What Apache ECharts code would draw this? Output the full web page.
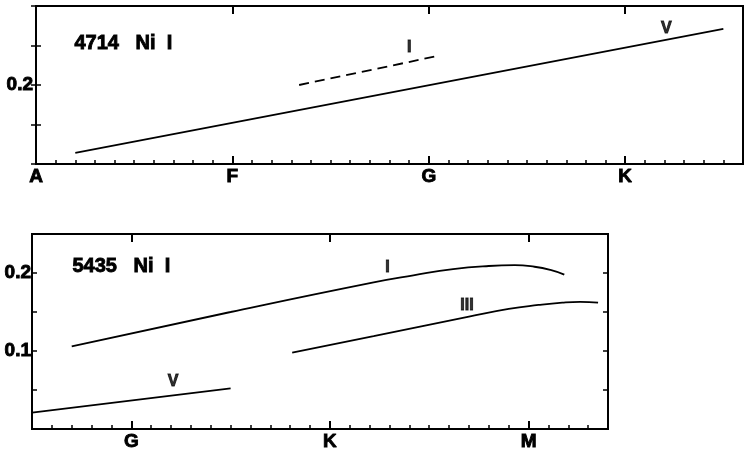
<!DOCTYPE html>
<html>
<head>
<meta charset="utf-8">
<script src="https://cdn.jsdelivr.net/npm/echarts@6/dist/echarts.min.js"></script>
<style>html,body{margin:0;padding:0;background:#fff}#c{width:750px;height:455px}</style>
</head>
<body>
<div id="c"></div>
<script>
// Spectral class scale: A=0, F=10, G=20, K=30, M=40 (one minor tick per subclass)
var classNames = ['A', 'F', 'G', 'K', 'M'];
var classPos = [0, 10, 20, 30, 40];

// Top panel: 4714 Ni I
var topTitle = '4714   Ni  I';
var topYLabels = [0.2];
var topV = [[2.0, 0.114], [35.0, 0.271]];
var topI = [[13.4, 0.200], [20.5, 0.237]];
var topLabels = [['I', 19.0, 0.247], ['V', 32.1, 0.271]];

// Bottom panel: 5435 Ni I
var botTitle = '5435   Ni  I';
var botYLabels = [0.1, 0.2];
var botI = [[17.0, 0.106], [25.0, 0.150], [32.2, 0.188], [34.2, 0.197], [36.2, 0.205], [38.0, 0.209], [39.3, 0.210], [40.3, 0.208], [41.1, 0.204], [41.8, 0.198]];
var botIII = [[28.1, 0.098], [32.2, 0.119], [37.0, 0.144], [39.0, 0.154], [40.5, 0.159], [41.7, 0.162], [42.6, 0.163], [43.5, 0.162]];
var botV = [[15.0, 0.021], [25.0, 0.052]];
var botLabels = [['I', 32.9, 0.207], ['III', 36.9, 0.158], ['V', 22.1, 0.061]];

var chart = echarts.init(document.getElementById('c'));
var font = "'Liberation Sans', Arial, sans-serif";
var heavy = { textBorderColor: '#000', textBorderWidth: 0.9 };
function fmtClass(v) { var i = classPos.indexOf(v); return i >= 0 ? classNames[i] : ''; }
function fmtY(list) { return function (v) { for (var i = 0; i < list.length; i++) if (Math.abs(v - list[i]) < 1e-9) return list[i].toFixed(1); return ''; }; }
function txt(extra) { return Object.assign({ color: '#000', fontFamily: font, fontWeight: 'bold', fontSize: 19 }, heavy, extra); }
function minorX(grid, min, max) {
  return { type: 'value', gridIndex: grid, min: min, max: max, interval: 1, position: 'bottom',
    axisLine: { show: false }, splitLine: { show: false }, axisLabel: { show: false },
    axisTick: { show: true, inside: true, length: 4, lineStyle: { color: '#000', width: 1.5 } } };
}
function majorX(grid, min, max, vals, pos, labels) {
  return { type: 'value', gridIndex: grid, min: min, max: max, position: pos,
    axisLine: { show: false }, splitLine: { show: false },
    axisLabel: txt({ show: labels, customValues: vals, formatter: fmtClass, margin: 3 }),
    axisTick: { show: true, inside: true, length: 8, customValues: vals, lineStyle: { color: '#000', width: 2 } } };
}
function yAx(grid, min, max, pos, labels, margin) {
  return { type: 'value', gridIndex: grid, min: min, max: max, interval: 0.05, position: pos,
    axisLine: { show: false }, splitLine: { show: false },
    axisLabel: txt({ show: !!labels, formatter: labels ? fmtY(labels) : '', margin: margin }),
    axisTick: { show: true, inside: true, length: 5, lineStyle: { color: '#000', width: 1.5 } } };
}
function line(data, xi, yi, dashed) {
  return { type: 'line', xAxisIndex: xi, yAxisIndex: yi, data: data, symbol: 'none', smooth: data.length > 2 ? 0.5 : false,
    lineStyle: { color: '#000', width: 1.8, type: dashed ? [10, 6] : 'solid' }, silent: true, animation: false };
}
function labels(arr, xi, yi) {
  return { type: 'scatter', xAxisIndex: xi, yAxisIndex: yi, symbolSize: 1, itemStyle: { color: 'rgba(0,0,0,0)' }, silent: true, animation: false,
    data: arr.map(function (d) { return { name: d[0], value: [d[1], d[2]] }; }),
    label: txt({ show: true, position: 'inside', formatter: '{b}', fontSize: 16 }) };
}
var onTop = [classPos[1], classPos[2], classPos[3]];
var onBot = [classPos[2], classPos[3], classPos[4]];
chart.setOption({
  animation: false,
  grid: [
    { left: 36, top: 6, width: 707, height: 158, show: true, borderColor: '#000', borderWidth: 2 },
    { left: 32, top: 234, width: 576, height: 195, show: true, borderColor: '#000', borderWidth: 2 }
  ],
  xAxis: [
    minorX(0, 0, 36),
    majorX(0, 0, 36, [0, 10, 20, 30], 'bottom', true),
    majorX(0, 0, 36, onTop, 'top', false),
    minorX(1, 15, 44),
    majorX(1, 15, 44, [20, 30, 40], 'bottom', true),
    majorX(1, 15, 44, onBot, 'top', false)
  ],
  yAxis: [
    yAx(0, 0.1, 0.3, 'left', topYLabels, 3),
    yAx(0, 0.1, 0.3, 'right', null, 0),
    yAx(1, 0, 0.25, 'left', botYLabels, 1),
    yAx(1, 0, 0.25, 'right', null, 0)
  ],
  graphic: [
    { type: 'text', left: 74, top: 33, style: { text: topTitle, font: 'bold 20px ' + font, fill: '#000', stroke: '#000', lineWidth: 0.9 } },
    { type: 'text', left: 72, top: 256, style: { text: botTitle, font: 'bold 20px ' + font, fill: '#000', stroke: '#000', lineWidth: 0.9 } }
  ],
  series: [
    line(topV, 0, 0, false),
    line(topI, 0, 0, true),
    labels(topLabels, 0, 0),
    line(botI, 3, 2, false),
    line(botIII, 3, 2, false),
    line(botV, 3, 2, false),
    labels(botLabels, 3, 2)
  ]
});
</script>
</body>
</html>
